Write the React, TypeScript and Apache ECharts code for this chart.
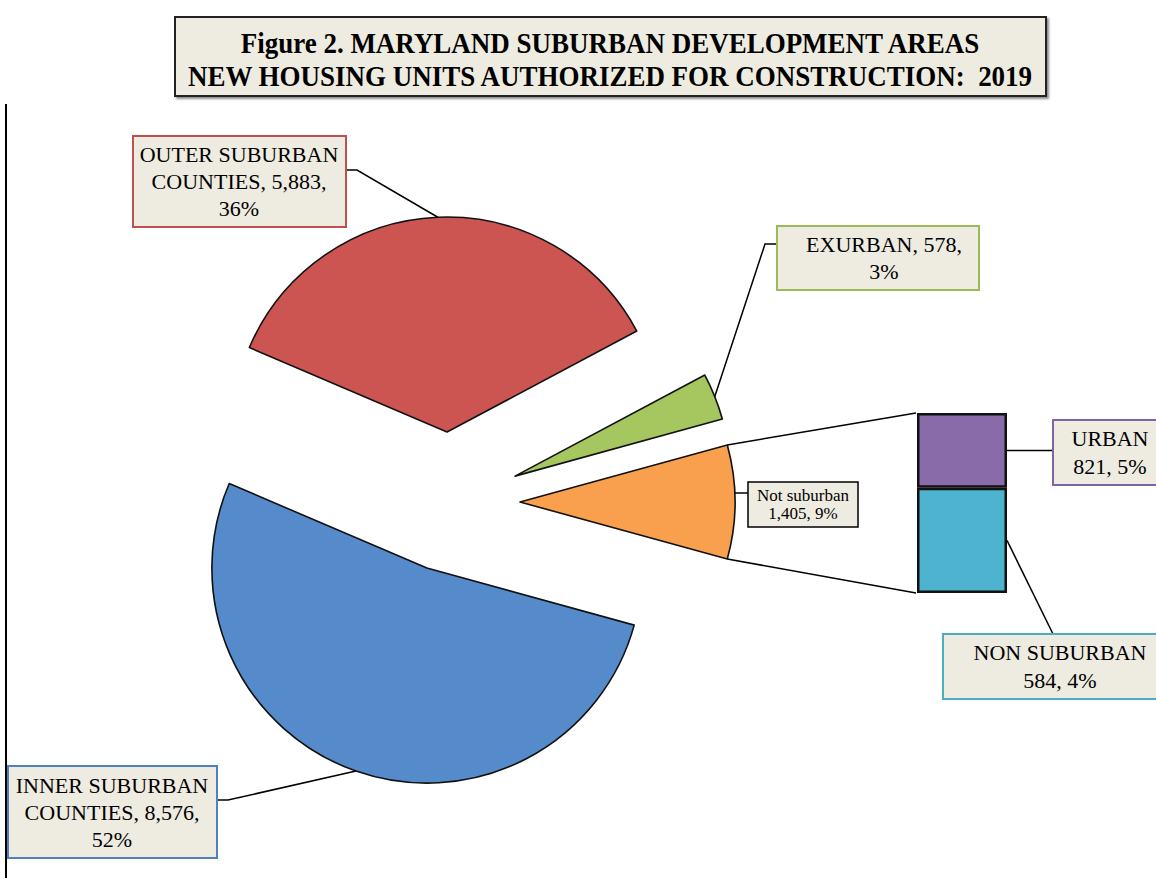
import React, { useEffect, useRef } from 'react';
import * as echarts from 'echarts';

// ---------- data ----------
const titleLines = [
  'Figure 2. MARYLAND SUBURBAN DEVELOPMENT AREAS',
  'NEW HOUSING UNITS AUTHORIZED FOR CONSTRUCTION:  2019',
];
const pieNames = ['Not suburban', 'EXURBAN', 'OUTER SUBURBAN\nCOUNTIES', 'INNER SUBURBAN\nCOUNTIES'];
const pieValues = [1405, 578, 5883, 8576];
const piePercents = ['9%', '3%', '36%', '52%'];
const barNames = ['URBAN', 'NON SUBURBAN'];
const barValues = [821, 584];
const barPercents = ['5%', '4%'];

// ---------- styles / layout ----------
const pieColors = ['#F9A04F', '#A6C660', '#CC5552', '#568BCB'];
const pieBorders = ['#000000', '#9BBB59', '#C0504D', '#4F81BD'];
const barSegColors = ['#4DB3CF', '#8A6BAA']; // bottom, top
const barLabelBorders = ['#8064A2', '#4BACC6'];
const barLabelSegment = [1, 0]; // which stack segment each bar label points to (as in the figure)
const BOX_FILL = '#EEECE1';
const SERIF = '"Liberation Serif", "DejaVu Serif", serif';

const CX = 450, CY = 502, R = 215, OFF = 70;
const GL = 917, GT = 413, GW = 90, GH = 180;

// label boxes: [x, y, w, h, textCx, fontSize, lineHeight]
const pieLabelBoxes = [
  { x: 748, y: 482, w: 110, h: 45, tx: 803, fs: 17, lh: 18, side: 'left', ly: 493 },
  { x: 777, y: 226, w: 202, h: 64, tx: 884, fs: 22, lh: 27, side: 'left', ly: 244 },
  { x: 133, y: 136, w: 213, h: 91, tx: 239, fs: 22, lh: 27, side: 'right', ly: 170 },
  { x: 8, y: 766, w: 209, h: 92, tx: 112, fs: 22, lh: 27, side: 'right', ly: 800 },
];
const barLabelBoxes = [
  { x: 1053, y: 420, w: 115, h: 65, tx: 1110, fs: 22, lh: 28 },
  { x: 943, y: 634, w: 235, h: 65, tx: 1060, fs: 22, lh: 28 },
];

const fmt = (v: number) => v.toLocaleString('en-US');

export default function App() {
  const ref = useRef<HTMLDivElement>(null);

  useEffect(() => {
    if (!ref.current) return;
    const chart = echarts.init(ref.current, undefined, { renderer: 'svg' });

    const total = pieValues.reduce((a, b) => a + b, 0);
    const startAngle = -((pieValues[0] / total) * 360) / 2;
    const rad = (d: number) => (d * Math.PI) / 180;

    // slice geometry (math angles, counter-clockwise)
    let cum = startAngle;
    const slices = pieValues.map((v) => {
      const a0 = cum;
      const a1 = cum + (v / total) * 360;
      cum = a1;
      const mid = (a0 + a1) / 2;
      const tx = CX + OFF * Math.cos(rad(mid));
      const ty = CY - OFF * Math.sin(rad(mid));
      const at = (a: number): [number, number] => [tx + R * Math.cos(rad(a)), ty - R * Math.sin(rad(a))];
      return { a0, a1, mid, at };
    });

    const pieTexts = pieNames.map((n, i) =>
      i === 0 ? `${n}\n${fmt(pieValues[i])}, ${piePercents[i]}` : `${n}, ${fmt(pieValues[i])},\n${piePercents[i]}`
    );
    const barTexts = barNames.map((n, i) => `${n}\n${fmt(barValues[i])}, ${barPercents[i]}`);

    const barSum = barValues.reduce((a, b) => a + b, 0);
    // segment centres (bottom = index 0)
    const segMidY = [
      GT + GH - (barValues[0] / barSum) * GH / 2,
      GT + (barValues[1] / barSum) * GH / 2,
    ];

    const graphics: any[] = [];
    // left chart border
    graphics.push({ type: 'line', shape: { x1: 6, y1: 104, x2: 6, y2: 878 }, style: { stroke: '#000', lineWidth: 2 } });

    // title
    graphics.push({
      type: 'rect', z: 20,
      shape: { x: 175, y: 17, width: 871, height: 79 },
      style: { fill: BOX_FILL, stroke: '#222', lineWidth: 2, shadowColor: 'rgba(0,0,0,0.45)', shadowBlur: 2, shadowOffsetX: 2, shadowOffsetY: 2 },
    });
    titleLines.forEach((t, i) => {
      graphics.push({
        type: 'text', z: 21, x: 610, y: 43 + i * 33, scaleX: 0.9,
        style: { text: t, font: `bold 30px ${SERIF}`, fill: '#000', align: 'center', verticalAlign: 'middle' },
      });
    });

    // connector lines from "Not suburban" slice to bar
    const o = slices[0];
    graphics.push({ type: 'line', z: 5, shape: { x1: o.at(o.a1)[0], y1: o.at(o.a1)[1], x2: GL - 1, y2: GT }, style: { stroke: '#000', lineWidth: 1.5 } });
    graphics.push({ type: 'line', z: 5, shape: { x1: o.at(o.a0)[0], y1: o.at(o.a0)[1], x2: GL - 1, y2: GT + GH }, style: { stroke: '#000', lineWidth: 1.5 } });

    // pie labels & leaders
    pieLabelBoxes.forEach((b, i) => {
      const s = slices[i];
      let pts: number[][];
      if (i === 0) {
        const dy = b.ly - CY;
        const x = CX + OFF + Math.sqrt(R * R - dy * dy);
        pts = [[x, b.ly], [b.x, b.ly]];
      } else {
        const edgeX = b.side === 'left' ? b.x : b.x + b.w;
        const kneeX = b.side === 'left' ? b.x - 12 : b.x + b.w + 11;
        pts = [[edgeX, b.ly], [kneeX, b.ly], s.at(s.mid)];
      }
      graphics.push({ type: 'polyline', z: 9, shape: { points: pts }, style: { stroke: '#000', lineWidth: 1.5, fill: null } });
      graphics.push({
        type: 'rect', z: 10, shape: { x: b.x, y: b.y, width: b.w, height: b.h },
        style: { fill: BOX_FILL, stroke: pieBorders[i], lineWidth: i === 0 ? 1.5 : 2 },
      });
      graphics.push({
        type: 'text', z: 11, x: b.tx, y: b.y + b.h / 2,
        style: { text: pieTexts[i], font: `${b.fs}px ${SERIF}`, fill: '#000', align: 'center', verticalAlign: 'middle', lineHeight: b.lh },
      });
    });

    // bar labels & leaders
    barLabelBoxes.forEach((b, i) => {
      const seg = barLabelSegment[i];
      const y = segMidY[seg];
      const pts = i === 0 ? [[GL + GW, y], [b.x, y]] : [[GL + GW, y], [b.x + 110, b.y]];
      graphics.push({ type: 'polyline', z: 9, shape: { points: pts }, style: { stroke: '#000', lineWidth: 1.5, fill: null } });
      graphics.push({
        type: 'rect', z: 10, shape: { x: b.x, y: b.y, width: b.w, height: b.h },
        style: { fill: BOX_FILL, stroke: barLabelBorders[i], lineWidth: 2 },
      });
      graphics.push({
        type: 'text', z: 11, x: b.tx, y: b.y + b.h / 2,
        style: { text: barTexts[i], font: `${b.fs}px ${SERIF}`, fill: '#000', align: 'center', verticalAlign: 'middle', lineHeight: b.lh },
      });
    });

    const option: any = {
      animation: false,
      backgroundColor: '#ffffff',
      grid: { left: GL, top: GT, width: GW, height: GH, containLabel: false },
      xAxis: { type: 'category', data: [''], show: false },
      yAxis: { type: 'value', min: 0, max: barSum, show: false, splitLine: { show: false } },
      series: [
        {
          type: 'pie',
          center: [CX, CY],
          radius: [0, R],
          startAngle,
          clockwise: false,
          selectedMode: 'multiple',
          selectedOffset: OFF,
          avoidLabelOverlap: false,
          label: { show: false },
          labelLine: { show: false },
          emphasis: { scale: false },
          itemStyle: { borderColor: '#111', borderWidth: 1.6 },
          data: pieNames.map((n, i) => ({
            name: n,
            value: pieValues[i],
            selected: true,
            itemStyle: { color: pieColors[i] },
          })),
        },
        {
          type: 'bar', stack: 'b', barWidth: '100%',
          data: [barValues[0]],
          itemStyle: { color: barSegColors[0], borderColor: '#111', borderWidth: 2.5 },
          emphasis: { disabled: true },
        },
        {
          type: 'bar', stack: 'b', barWidth: '100%',
          data: [barValues[1]],
          itemStyle: { color: barSegColors[1], borderColor: '#111', borderWidth: 2.5 },
          emphasis: { disabled: true },
        },
      ],
      graphic: graphics,
    };
    chart.setOption(option);
    return () => chart.dispose();
  }, []);

  return (
    <div
      ref={ref}
      style={{ position: 'absolute', left: 0, top: 0, width: 1156, height: 878, background: '#fff' }}
    />
  );
}
